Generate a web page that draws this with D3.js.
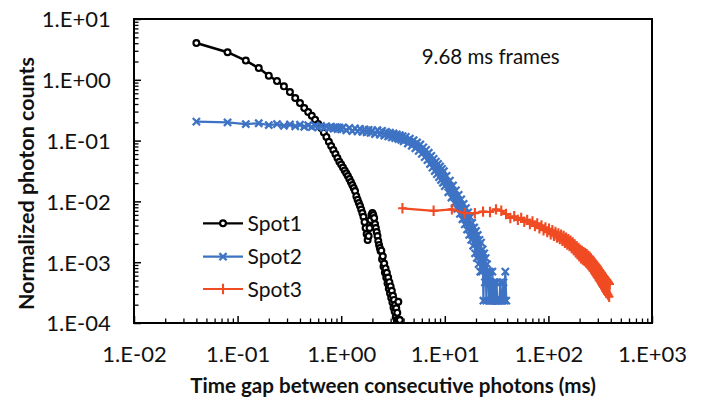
<!DOCTYPE html>
<html><head><meta charset="utf-8">
<script src="https://cdn.jsdelivr.net/npm/d3@7"></script>
<style>
html,body{margin:0;padding:0;background:#fff;}
svg{display:block;font-family:Lato,"Open Sans",sans-serif;}
</style></head><body>
<svg id="chart" width="701" height="399"></svg>
<script>
// ---------- data ----------
const xMajorTicks = [0.01, 0.1, 1, 10, 100, 1000];
const xTickLabels = ["1.E-02", "1.E-01", "1.E+00", "1.E+01", "1.E+02", "1.E+03"];
const yMajorTicks = [1e-4, 1e-3, 1e-2, 1e-1, 1, 10];
const yTickLabels = ["1.E-04", "1.E-03", "1.E-02", "1.E-01", "1.E+00", "1.E+01"];
const seriesNames = ["Spot1", "Spot2", "Spot3"];
const xTitle = "Time gap between consecutive photons (ms)";
const yTitle = "Normalized photon counts";
const note = "9.68 ms frames";

const spot1Time = [0.04,0.08,0.12,0.16,0.2,0.24,0.28,0.32,0.36,0.4,0.44,0.48,0.52,0.56,0.6,0.64,0.68,0.72,0.76,0.8,
  0.84,0.88,0.92,0.96,1,1.04,1.08,1.12,1.16,1.2,1.24,1.28,1.32,1.36,1.4,1.44,1.48,1.52,1.56,1.6,
  1.64,1.68,1.72,1.76,1.8,1.84,1.88,1.92,1.96,2,2.04,2.08,2.12,2.16,2.2,2.24,2.28,2.32,2.36,2.4,
  2.44,2.48,2.52,2.56,2.6,2.64,2.68,2.72,2.76,2.8,2.84,2.88,2.92,2.96,3,3.04,3.08,3.12,3.16,3.2,
  3.24,3.28,3.32,3.36,3.4,3.44,3.48,3.52,3.56,3.6,3.64,3.68];
const spot1Value = [4.03,2.84,2.07,1.56,1.17,0.955,0.78,0.63,0.502,0.415,0.344,0.295,0.256,0.221,0.188,0.161,0.136,0.115,0.096,0.0815,
  0.070,0.060,0.0517,0.045,0.0404,0.0361,0.0323,0.029,0.0262,0.0234,0.0208,0.0186,0.0166,0.0148,0.0122,0.0106,0.0094,0.0084,0.00736,0.00645,
  0.0056,0.00458,0.00365,0.00291,0.00232,0.0027,0.00365,0.00494,0.00597,0.00645,0.00597,0.00533,0.00426,0.00365,0.00314,0.0027,0.00223,0.00192,0.00171,0.00153,
  0.00155,0.00112,0.00125,0.00085,0.00095,0.00068,0.00079,0.00056,0.00067,0.00045,0.00056,0.00037,0.00047,0.00031,0.0004,0.00026,0.00034,0.00022,0.00028,0.00018,
  0.00024,0.000155,0.0002,0.000125,0.000175,0.000112,0.000148,0.000112,0.000224,0.000112,0.000112,0.000112];

const spot2Time = [0.04,0.08,0.12,0.16,0.2,0.24,0.28,0.32,0.36,0.4,0.44,0.48,0.52,0.56,0.6,0.64,0.68,0.72,0.76,0.8,0.84,0.88,0.92,0.96,1.0,
  1.04,1.12,1.2,1.28,1.36,1.44,1.52,1.6,1.68,1.76,1.84,1.92,2.0,
  2.12,2.24,2.36,2.48,2.6,2.72,2.84,2.96,3.08,3.2,3.32,3.44,3.56,3.68,3.8,3.92,
  4.0,4.2,4.4,4.6,4.8,5.0,5.2,5.4,5.6,5.8,6.0,6.2,6.4,6.6,6.8,7.0,7.2,7.4,7.6,7.8,8.0,8.2,8.4,8.6,8.8,9.0,9.2,9.4,9.6,9.8,10.0,
  10.4,10.8,11.2,11.6,12.0,12.4,12.8,13.2,13.6,14.0,14.4,14.8,15.2,15.6,16.0,16.4,16.8,17.2,17.6,18.0,18.4,18.8,19.2,19.6,20.0,20.4,20.8,21.2,21.6,22.0,
  22.4,22.8,23.2,23.6,24.0,24.4,24.8,25.2,25.6,26.0,26.4,26.8,27.2,27.6,28.0,28.4,28.8,29.2,29.6,30.0,30.4,30.8,31.2,31.6,32.0,32.8,33.6,34.4,35.2,36.0,36.8,37.6,38.4,39.2];
const spot2Value = [0.205,0.199,0.187,0.193,0.180,0.187,0.175,0.184,0.172,0.182,0.169,0.179,0.167,0.176,0.165,0.174,0.163,0.171,0.160,0.169,0.158,0.166,0.155,0.164,0.153,
  0.165,0.148,0.161,0.144,0.159,0.142,0.156,0.140,0.153,0.137,0.150,0.134,0.147,
  0.128,0.1485,0.125,0.145,0.121,0.139,0.117,0.135,0.113,0.131,0.1095,0.127,0.1064,0.1234,0.1028,0.1184,
  0.0975,0.1151,0.0894,0.1077,0.0822,0.1016,0.0747,0.0932,0.0677,0.0862,0.0604,0.0776,0.0535,0.0704,0.0476,0.0631,0.0412,0.0562,0.0359,0.0502,0.0316,0.0452,0.0281,0.0412,0.0250,0.0375,0.0225,0.0343,0.0202,0.0314,0.0178,
  0.0263,0.0141,0.0220,0.0116,0.0183,0.00936,0.0152,0.00753,0.0128,0.00623,0.0108,0.00509,0.00911,0.00419,0.00775,0.00344,0.00662,0.00281,0.00552,0.00233,0.00443,0.00186,0.00373,0.0014,0.00326,0.00117,0.0028,0.00093,0.00233,0.0007,
  0.0021,0.0007,0.00163,0.000233,0.0014,0.000466,0.00117,0.000233,0.00093,0.000466,0.0007,0.000233,0.0007,0.000233,0.000466,0.000233,0.0007,0.000233,0.000466,0.000233,0.000466,0.000233,0.000233,0.000466,0.000233,0.000233,0.000233,0.000466,0.000233,0.000233,0.000466,0.000233,0.0007,0.000233];

const spot3Time = [3.9,7.8,11.7,15.6,19.5,23.4,27.3,31.2,35.1,39,42.9,46.8,50.7,54.6,58.5,62.4,66.3,70.2,74.1,78,
  81.9,85.8,89.7,93.6,97.5,101.4,105.3,109.2,113.1,117,120.9,124.8,128.7,132.6,136.5,140.4,144.3,148.2,152.1,156,
  159.9,163.8,167.7,171.6,175.5,179.4,183.3,187.2,191.1,195,198.9,202.8,206.7,210.6,214.5,218.4,222.3,226.2,230.1,234,
  237.9,241.8,245.7,249.6,253.5,257.4,261.3,265.2,269.1,273,276.9,280.8,284.7,288.6,292.5,296.4,300.3,304.2,308.1,312,
  315.9,319.8,323.7,327.6,331.5,335.4,339.3,343.2,347.1,351,354.9,358.8,362.7,366.6,370.5,374.4,378.3,382.2,386.1,390];
const spot3Value = [7.7e-3,7.0e-3,7.4e-3,6.4e-3,6.4e-3,6.8e-3,6.7e-3,7.4e-3,7.0e-3,6.2e-3,
  5.34e-3,5.71e-3,4.97e-3,5.36e-3,4.61e-3,4.97e-3,4.24e-3,4.66e-3,3.93e-3,4.35e-3,
  3.61e-3,4.04e-3,3.35e-3,3.74e-3,3.12e-3,3.54e-3,2.89e-3,3.36e-3,2.72e-3,3.15e-3,
  2.55e-3,2.98e-3,2.40e-3,2.83e-3,2.25e-3,2.69e-3,2.09e-3,2.54e-3,1.96e-3,2.39e-3,
  1.85e-3,2.26e-3,1.71e-3,2.11e-3,1.59e-3,1.96e-3,1.46e-3,1.84e-3,1.36e-3,1.72e-3,
  1.25e-3,1.60e-3,1.16e-3,1.53e-3,1.11e-3,1.46e-3,1.05e-3,1.41e-3,1.00e-3,1.35e-3,
  0.951e-3,1.28e-3,0.891e-3,1.23e-3,0.837e-3,1.15e-3,0.775e-3,1.07e-3,0.722e-3,1.02e-3,
  0.676e-3,0.95e-3,0.629e-3,0.894e-3,0.584e-3,0.847e-3,0.549e-3,0.793e-3,0.508e-3,0.743e-3,
  0.478e-3,0.704e-3,0.443e-3,0.668e-3,0.416e-3,0.625e-3,0.39e-3,0.592e-3,0.367e-3,0.561e-3,
  0.339e-3,0.53e-3,0.322e-3,0.507e-3,0.304e-3,0.484e-3,0.288e-3,0.461e-3,0.271e-3,0.438e-3];

const seriesColors = ["#000000", "#3E73C4", "#F04B23"];
const seriesMarkers = ["circle", "cross", "plus"];

// ---------- layout ----------
const plot = {left: 134, top: 19, right: 652, bottom: 323};
const svg = d3.select("#chart");

const x = d3.scaleLog().domain([0.01, 1000]).range([plot.left, plot.right]);
const y = d3.scaleLog().domain([1e-4, 10]).range([plot.bottom, plot.top]);

svg.append("defs").append("clipPath").attr("id", "clip")
  .append("rect").attr("x", plot.left).attr("y", plot.top - 4)
  .attr("width", plot.right - plot.left + 4).attr("height", plot.bottom - plot.top + 4);

const xMinor = x.ticks().filter(v => !xMajorTicks.some(m => Math.abs(m - v) / m < 1e-9));
const yMinor = y.ticks().filter(v => !yMajorTicks.some(m => Math.abs(m - v) / m < 1e-9));

// x axis
const gx = svg.append("g").attr("transform", `translate(0,${plot.bottom})`)
  .call(d3.axisBottom(x).tickValues(xMajorTicks).tickSizeInner(-7).tickSizeOuter(0)
    .tickPadding(0).tickFormat((d, i) => xTickLabels[i]));
gx.select(".domain").remove();
gx.selectAll("line").attr("stroke", "#000").attr("stroke-width", 1.5);
gx.selectAll("text").attr("dy", null).attr("y", 38.7)
  .attr("font-size", 22).attr("font-family", "Lato").attr("fill", "#111");
const gxm = svg.append("g").attr("transform", `translate(0,${plot.bottom})`)
  .call(d3.axisBottom(x).tickValues(xMinor).tickSizeInner(-4.5).tickSizeOuter(0).tickFormat(""));
gxm.select(".domain").remove();
gxm.selectAll("line").attr("stroke", "#000").attr("stroke-width", 1.3);

// y axis
const gy = svg.append("g").attr("transform", `translate(${plot.left},0)`)
  .call(d3.axisLeft(y).tickValues(yMajorTicks).tickSizeInner(-7).tickSizeOuter(0)
    .tickPadding(23.3).tickFormat((d, i) => yTickLabels[i]));
gy.select(".domain").remove();
gy.selectAll("line").attr("stroke", "#000").attr("stroke-width", 1.5);
gy.selectAll("text").attr("dy", "0.36em")
  .attr("font-size", 22).attr("font-family", "Lato").attr("fill", "#111");
const gym = svg.append("g").attr("transform", `translate(${plot.left},0)`)
  .call(d3.axisLeft(y).tickValues(yMinor).tickSizeInner(-4.5).tickSizeOuter(0).tickFormat(""));
gym.select(".domain").remove();
gym.selectAll("line").attr("stroke", "#000").attr("stroke-width", 1.3);

// frame
svg.append("rect").attr("x", plot.left).attr("y", plot.top)
  .attr("width", plot.right - plot.left).attr("height", plot.bottom - plot.top)
  .attr("fill", "none").attr("stroke", "#000").attr("stroke-width", 2);

// markers
function drawMarker(sel, type, color) {
  if (type === "circle") {
    sel.append("circle").attr("r", 2.9).attr("fill", "#fff").attr("stroke", color).attr("stroke-width", 2.2);
  } else if (type === "cross") {
    sel.append("path").attr("d", "M-3.6,-3.6L3.6,3.6M-3.6,3.6L3.6,-3.6")
      .attr("stroke", color).attr("stroke-width", 2.3).attr("fill", "none");
  } else {
    sel.append("path").attr("d", "M-4.3,0H4.3M0,-5.2V5.2")
      .attr("stroke", color).attr("stroke-width", 2.1).attr("fill", "none");
  }
}

const series = [
  {name: seriesNames[0], data: spot1Time.map((t, i) => ({t, v: spot1Value[i]})), w: 2.5},
  {name: seriesNames[1], data: spot2Time.map((t, i) => ({t, v: spot2Value[i]})), w: 2.2},
  {name: seriesNames[2], data: spot3Time.map((t, i) => ({t, v: spot3Value[i]})), w: 2.2}
];

const line = d3.line().x(d => x(d.t)).y(d => y(d.v));
const gData = svg.append("g").attr("clip-path", "url(#clip)");
series.forEach((s, si) => {
  const g = gData.append("g");
  g.append("path").datum(s.data).attr("d", line)
    .attr("fill", "none").attr("stroke", seriesColors[si]).attr("stroke-width", s.w)
    .attr("stroke-linejoin", "round");
  g.selectAll("g.pt").data(s.data).join("g").attr("class", "pt")
    .attr("transform", d => `translate(${x(d.t)},${y(d.v)})`)
    .each(function () { drawMarker(d3.select(this), seriesMarkers[si], seriesColors[si]); });
});

// legend
const legendRows = [223.3, 256.7, 289];
seriesNames.forEach((name, i) => {
  const g = svg.append("g").attr("transform", `translate(0,${legendRows[i]})`);
  g.append("line").attr("x1", 203).attr("x2", 243).attr("y1", 0).attr("y2", 0)
    .attr("stroke", seriesColors[i]).attr("stroke-width", 2.2);
  const m = g.append("g").attr("transform", "translate(223,0)");
  drawMarker(m, seriesMarkers[i], seriesColors[i]);
  g.append("text").attr("x", 247.5).attr("y", 7.6).text(name)
    .attr("font-size", 21).attr("font-family", "Lato").attr("fill", "#111");
});

// annotation
svg.append("text").attr("x", 421.7).attr("y", 64).text(note)
  .attr("font-size", 20.5).attr("font-family", "Lato").attr("fill", "#111");

// axis titles
svg.append("text").attr("x", (plot.left + plot.right) / 2).attr("y", 393)
  .attr("text-anchor", "middle").attr("font-weight", "bold").attr("font-size", 20.6)
  .attr("font-family", "Lato").attr("fill", "#111").text(xTitle);
svg.append("text").attr("transform", "translate(34,183.5) rotate(-90)")
  .attr("text-anchor", "middle").attr("font-weight", "bold").attr("font-size", 21.5)
  .attr("font-family", "Lato").attr("fill", "#111").text(yTitle);
</script>
</body></html>
